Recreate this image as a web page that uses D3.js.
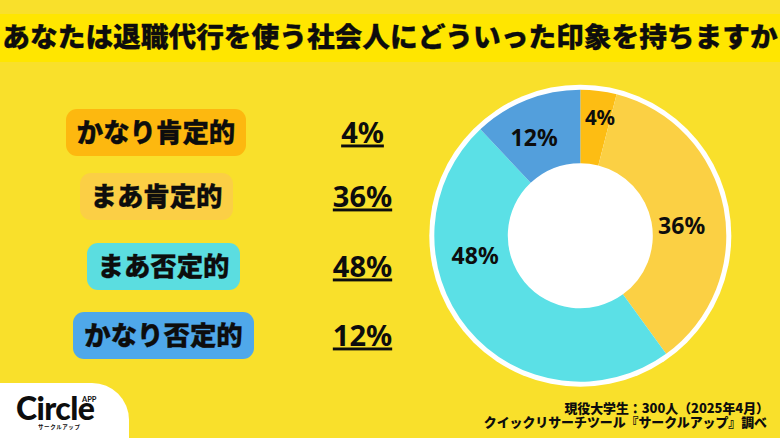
<!DOCTYPE html>
<html lang="ja">
<head>
<meta charset="utf-8">
<script src="https://cdnjs.cloudflare.com/ajax/libs/d3/7.8.5/d3.min.js"></script>
<style>
html,body{margin:0;padding:0;background:#f9e02b;overflow:hidden}
text{font-family:"Noto Sans CJK JP","Noto Sans",sans-serif;fill:#0d0d0d}
</style>
</head>
<body>
<div class="canvas"></div>
<script>
const categories = ['かなり肯定的','まあ肯定的','まあ否定的','かなり否定的'];
const values = [4,36,48,12];
const sliceColors = ['#fdbd13','#fbd044','#5be0e6','#539fdc'];
const pillColors = ['#fdb80f','#fbcf45','#5bdde0','#4fa8ea'];
const title = 'あなたは退職代行を使う社会人にどういった印象を持ちますか';
const footerLines = ['現役大学生：300人（2025年4月）','クイックリサーチツール『サークルアップ』調べ'];

const width = 780, height = 438;

const svg = d3.select('.canvas')
.append('svg')
    .attr('width',width)
    .attr('height',height)
    .style('display','block');

svg.append('rect')
    .attr('width',width)
    .attr('height',height)
    .attr('fill','#f9e02b');

// title band
svg.append('rect')
    .attr('y',14)
    .attr('width',width)
    .attr('height',48)
    .attr('fill','#ffe600');

svg.append('text')
    .attr('x',390)
    .attr('y',47)
    .attr('text-anchor','middle')
    .attr('font-size',27.7)
    .attr('font-weight',900)
    .attr('stroke','#0d0d0d')
    .attr('stroke-width',0.3)
    .text(title);

// left column, pill boxes and values
const pills = [
    {cx:156, cy:132.5, w:180},
    {cx:156.5, cy:196.5, w:153},
    {cx:163.5, cy:266.5, w:153},
    {cx:163.5, cy:335.5, w:181}
];
const pillHeight = 47;

const row = svg.selectAll('g.row')
    .data(categories)
    .enter()
    .append('g')
        .attr('class','row');

row.append('rect')
    .attr('x',(d,i) => pills[i].cx - pills[i].w/2)
    .attr('y',(d,i) => pills[i].cy - pillHeight/2)
    .attr('width',(d,i) => pills[i].w)
    .attr('height',pillHeight)
    .attr('rx',11)
    .attr('fill',(d,i) => pillColors[i]);

row.append('text')
    .attr('x',(d,i) => pills[i].cx)
    .attr('y',(d,i) => pills[i].cy + 9)
    .attr('text-anchor','middle')
    .attr('font-size',26.4)
    .attr('font-weight',900)
    .attr('stroke','#0d0d0d')
    .attr('stroke-width',0.3)
    .text(d => d);

row.append('text')
    .attr('x',362.5)
    .attr('y',(d,i) => pills[i].cy + 10)
    .attr('text-anchor','middle')
    .attr('font-size',29)
    .attr('font-weight',700)
    .style('font-family','"Noto Sans",sans-serif')
    .style('text-decoration','underline')
    .text((d,i) => values[i] + '%');

// donut
const donut = svg.append('g')
    .attr('transform','translate(580.3,235.7)');

const outerR = 146, innerR = 72.5;

donut.append('circle')
    .attr('r',151)
    .attr('fill','#fff');

const pie = d3.pie().sort(null).value(d => d);
const arc = d3.arc().innerRadius(innerR).outerRadius(outerR);

donut.selectAll('path')
    .data(pie(values))
    .enter()
    .append('path')
        .attr('d',arc)
        .attr('fill',(d,i) => sliceColors[i]);

// labels sit off the centroid in the original
const nudge = [[6,-10],[-6,11],[-21,-49],[-6,4]];

donut.selectAll('text')
    .data(pie(values))
    .enter()
    .append('text')
        .attr('x',(d,i) => arc.centroid(d)[0] + nudge[i][0])
        .attr('y',(d,i) => arc.centroid(d)[1] + nudge[i][1] + 8)
        .attr('text-anchor','middle')
        .attr('font-size',(d,i) => i == 0 ? 20.5 : 23)
        .attr('font-weight',700)
        .style('font-family','"Noto Sans",sans-serif')
        .text(d => d.data + '%');

// footer
svg.selectAll('text.footer')
    .data(footerLines)
    .enter()
    .append('text')
        .attr('class','footer')
        .attr('x',(d,i) => i == 0 ? 769 : 767)
        .attr('y',(d,i) => 413 + i*14)
        .attr('text-anchor','end')
        .attr('font-size',12.9)
        .attr('font-weight',900)
        .text(d => d);

// logo corner
svg.append('path')
    .attr('d','M0,383 H92 A37,37 0 0 1 129,420 V438 H0 Z')
    .attr('fill','#fff');

svg.append('text')
    .attr('x',16)
    .attr('y',420)
    .attr('font-size',32)
    .attr('font-weight',900)
    .attr('textLength',79)
    .attr('lengthAdjust','spacing')
    .style('font-family','Lato,sans-serif')
    .text('Circle');

svg.append('text')
    .attr('x',82)
    .attr('y',402)
    .attr('font-size',7.5)
    .attr('font-weight',700)
    .style('font-family','Lato,sans-serif')
    .text('APP');

svg.append('text')
    .attr('x',38)
    .attr('y',429)
    .attr('font-size',5.5)
    .attr('font-weight',700)
    .attr('letter-spacing',0.6)
    .text('サークルアップ');
</script>
</body>
</html>
